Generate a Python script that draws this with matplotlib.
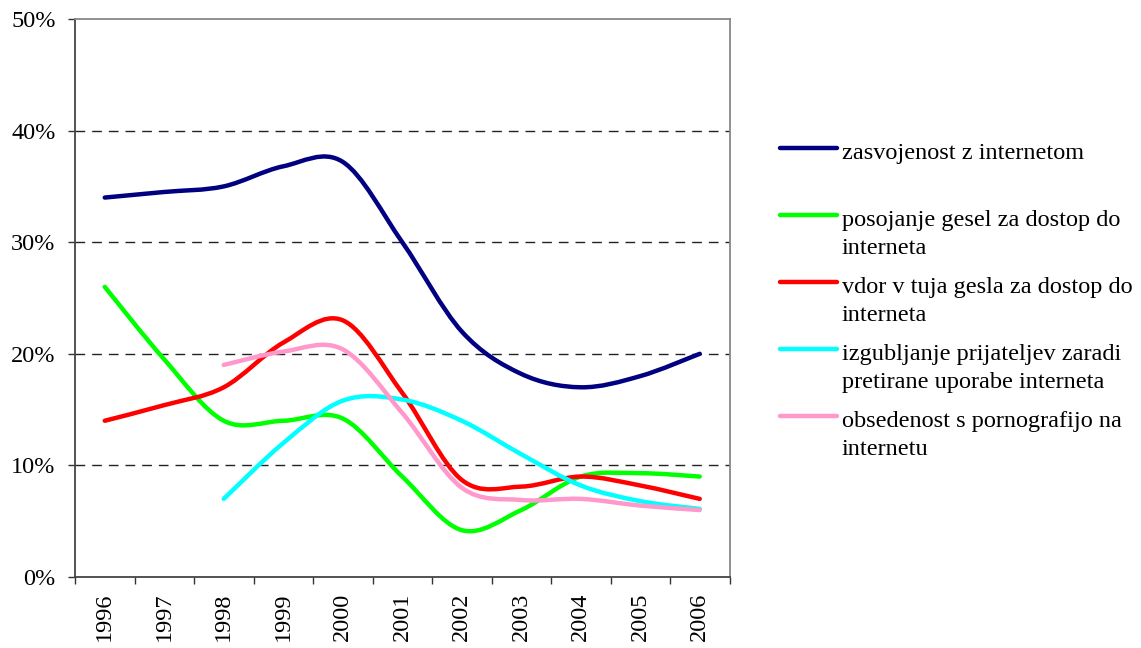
import matplotlib
matplotlib.use("Agg")
import matplotlib.pyplot as plt
from matplotlib.path import Path
from matplotlib.patches import PathPatch
from matplotlib.lines import Line2D
from matplotlib.ticker import FixedLocator, PercentFormatter
import numpy as np

plt.rcParams["font.family"] = ["Liberation Serif", "DejaVu Serif"]

years = ["1996", "1997", "1998", "1999", "2000", "2001",
         "2002", "2003", "2004", "2005", "2006"]

zasvojenost = [34, 34.5, 35, 36.8, 37.2, 30, 22, 18.2, 17, 18, 20]
posojanje = [26, 19.5, 14, 14, 14.2, 9, 4.2, 6, 9, 9.3, 9]
vdor = [14, 15.4, 17, 21, 23, 16.5, 8.7, 8.1, 9, 8.2, 7]
izgubljanje = [None, None, 7, 12, 15.8, 15.9, 14, 11, 8.2, 6.8, 6.1]
obsedenost = [None, None, 19, 20.2, 20.4, 14.7, 8, 6.9, 7, 6.4, 6]

labels = [
    "zasvojenost z internetom",
    "posojanje gesel za dostop do\ninterneta",
    "vdor v tuja gesla za dostop do\ninterneta",
    "izgubljanje prijateljev zaradi\npretirane uporabe interneta",
    "obsedenost s pornografijo na\ninternetu",
]
series = [zasvojenost, posojanje, vdor, izgubljanje, obsedenost]
colors = ["#000080", "#00ff00", "#ff0000", "#00ffff", "#ff99cc"]


def smooth_path(values):
    # Excel-like smoothed line: cubic Bezier segments (Catmull-Rom control points)
    pts = [(i, v) for i, v in enumerate(values) if v is not None]
    p = np.array(pts, dtype=float)
    n = len(p)
    verts = [tuple(p[0])]
    codes = [Path.MOVETO]
    for i in range(n - 1):
        prev = p[i - 1] if i > 0 else p[i]
        nxt = p[i + 2] if i + 2 < n else p[i + 1]
        c1 = p[i] + (p[i + 1] - prev) / 6.0
        c2 = p[i + 1] - (nxt - p[i]) / 6.0
        verts += [tuple(c1), tuple(c2), tuple(p[i + 1])]
        codes += [Path.CURVE4] * 3
    return Path(verts, codes)


W, H = 1141, 648
fig = plt.figure(figsize=(W / 100, H / 100), dpi=100)
ax = fig.add_axes([75 / W, 1 - 577 / H, 654.5 / W, 558 / H])

for vals, col in zip(series, colors):
    ax.add_patch(PathPatch(smooth_path(vals), fill=False, edgecolor=col,
                           linewidth=3.2, capstyle="round", joinstyle="round",
                           zorder=3))

ax.set_xlim(-0.5, len(years) - 0.5)
ax.set_ylim(0, 50)

ax.yaxis.set_major_locator(FixedLocator([0, 10, 20, 30, 40, 50]))
ax.yaxis.set_major_formatter(PercentFormatter(decimals=0))
ax.set_xticks(range(len(years)))
ax.set_xticklabels(years, rotation=90)
ax.xaxis.set_minor_locator(FixedLocator(np.arange(-0.5, len(years), 1.0)))

ax.tick_params(axis="x", which="major", length=0, pad=11, labelsize=17.5)
ax.tick_params(axis="x", which="minor", length=5, width=1, color="#333333")
ax.tick_params(axis="y", length=5, width=1, color="#333333", pad=9,
               labelsize=17.5)

for y in [10, 20, 30, 40]:
    ax.axhline(y, color="#222222", linewidth=1, dashes=(7, 5), zorder=1)

for side in ["left", "bottom"]:
    ax.spines[side].set_color("#444444")
    ax.spines[side].set_linewidth(1.3)
for side in ["top", "right"]:
    ax.spines[side].set_color("#888888")
    ax.spines[side].set_linewidth(1.3)

# legend drawn by hand so handles sit on the first text line, like Excel
leg_y0 = 148.3
leg_step = 66.8
line_gap = 28.3
for k, (lab, col) in enumerate(zip(labels, colors)):
    y = leg_y0 + k * leg_step
    fig.add_artist(Line2D([780 / W, 837 / W], [1 - y / H, 1 - y / H],
                          color=col, linewidth=3.2, solid_capstyle="round",
                          transform=fig.transFigure))
    for j, part in enumerate(lab.split("\n")):
        base = y + 11 + j * line_gap
        fig.text(842 / W, 1 - base / H, part, fontsize=17.5,
                 va="baseline", ha="left")

fig.savefig("out.png", dpi=100)
